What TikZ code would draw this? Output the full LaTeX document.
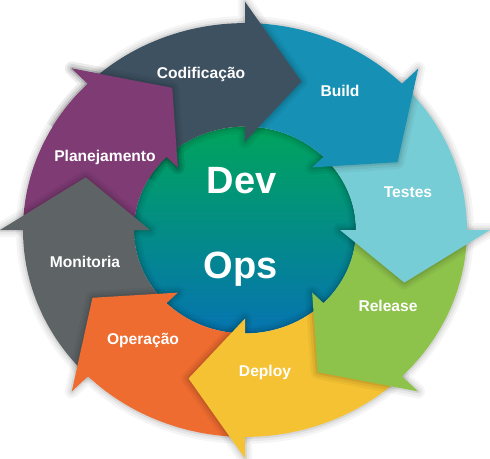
\documentclass[tikz,border=0pt]{standalone}
\usepackage{fontspec}
\setmainfont{Liberation Sans}
\definecolor{cCod}{HTML}{3E5160}
\definecolor{cBld}{HTML}{1691B5}
\definecolor{cTst}{HTML}{77CDD6}
\definecolor{cRel}{HTML}{8DC24B}
\definecolor{cDep}{HTML}{F4C232}
\definecolor{cOpe}{HTML}{EE6C30}
\definecolor{cMon}{HTML}{5E6466}
\definecolor{cPla}{HTML}{7E3B74}
\definecolor{cTop}{HTML}{00A45C}
\definecolor{cMid}{HTML}{00918A}
\definecolor{cBot}{HTML}{0674B0}
\newcommand\arrowshape[1]{({135-#1}:111) -- ({135-#1}:222) arc[start angle={135-#1}, end angle={90-#1}, radius=222pt] -- ({90-#1}:245) -- ({70.5-#1}:169) -- ({90-#1}:95) -- ({90-#1}:111) arc[start angle={90-#1}, end angle={135-#1}, radius=111pt] -- cycle}
\begin{document}
\begin{tikzpicture}[x=1pt,y=1pt,
  lbl/.style={text=white,font=\fontsize{15.6}{17}\selectfont\bfseries,anchor=base,inner sep=0pt},
  big/.style={text=white,font=\fontsize{38}{40}\selectfont\bfseries,anchor=base,inner sep=0pt},
  glow/.style={preaction={draw=black,opacity=0.04,line width=14pt,line join=round},
               preaction={draw=black,opacity=0.05,line width=9pt,line join=round},
               preaction={draw=black,opacity=0.08,line width=4pt,line join=round}}]
\useasboundingbox (0,0) rectangle (490,-458);
\begin{scope}[shift={(245,-230)}, yscale=0.932]
  \shade[top color=cTop, middle color=cMid, bottom color=cBot] (0,0) circle[radius=111pt];
  \fill[cPla, glow] \arrowshape{315};
  \fill[cMon, glow] \arrowshape{270};
  \fill[cOpe, glow] \arrowshape{225};
  \fill[cDep, glow] \arrowshape{180};
  \fill[cRel, glow] \arrowshape{135};
  \fill[cTst, glow] \arrowshape{90};
  \fill[cBld, glow] \arrowshape{45};
  \fill[cCod, glow] \arrowshape{0};
  \begin{scope}
    \clip (0,0) -- (150:320) -- (127.5:400) -- (105:320) -- cycle;
    \fill[cPla, glow] \arrowshape{315};
  \end{scope}
\end{scope}
\node[lbl] (cod) at (201,-78) {Codificação};
\node[lbl] (bld) at (340,-96) {Build};
\node[lbl] (tst) at (408,-197) {Testes};
\node[lbl] (rel) at (388,-311) {Release};
\node[lbl] (dep) at (265,-376) {Deploy};
\node[lbl] (ope) at (143,-344) {Operação};
\node[lbl] (mon) at (85,-267) {Monitoria};
\node[lbl] (pla) at (105,-161) {Planejamento};
\node[big] (dev) at (241.5,-193) {Dev};
\node[big] (ops) at (240.5,-278) {Ops};
\end{tikzpicture}
\end{document}
